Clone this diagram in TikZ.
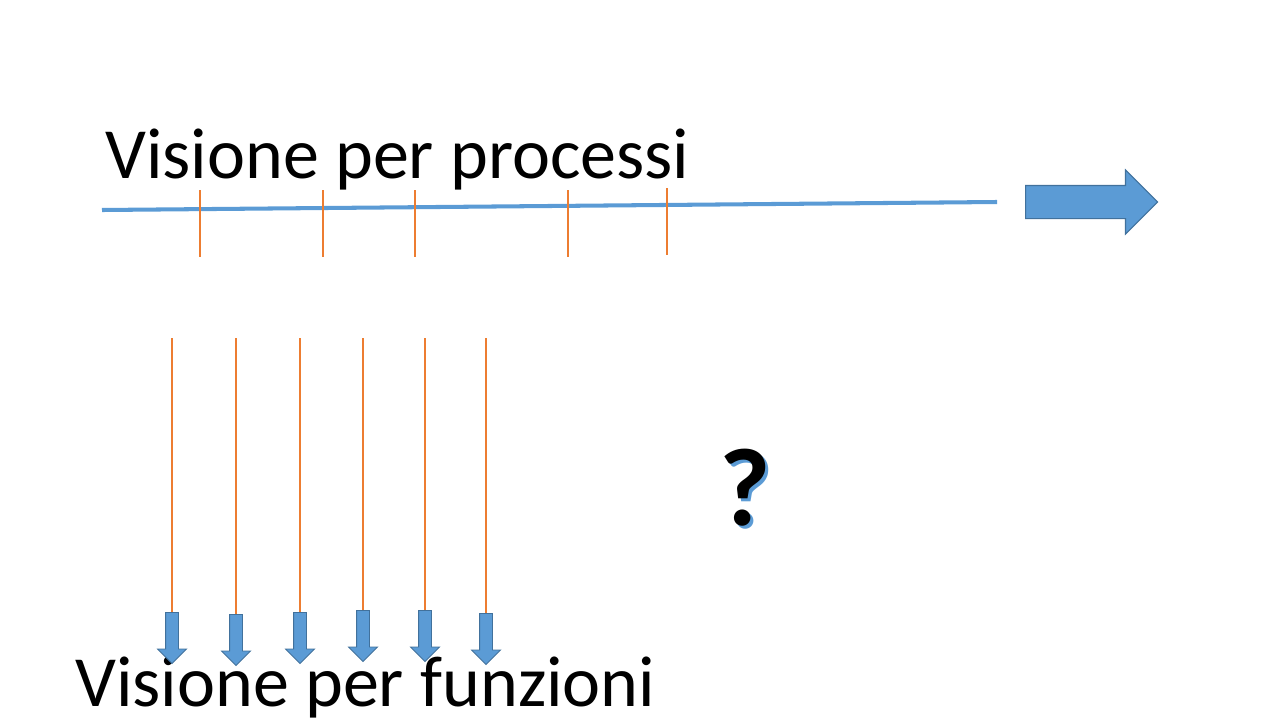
\documentclass[tikz,border=0pt]{standalone}
\usepackage{xcolor}
\usepackage{fontspec}
\setmainfont{Carlito}
\usepackage{tikz}
\usetikzlibrary{shapes, arrows, positioning}

\definecolor{pblue}{HTML}{5B9BD5}
\definecolor{pblueline}{HTML}{41719C}
\definecolor{porange}{HTML}{ED7D31}

\begin{document}
\begin{tikzpicture}[
    x=0.02cm, y=-0.02cm,
    % Stili per titoli, linee e frecce
    title/.style={
        inner sep=0,
        anchor=base west,
        font=\fontsize{41}{48}\selectfont
    },
    timeline/.style={draw=pblue, line width=2.3pt},
    tick/.style={draw=porange, line width=0.8pt},
    link/.style={draw=porange, line width=0.8pt},
    bigarrow/.style={
        single arrow,
        draw=pblueline,
        fill=pblue,
        line width=0.6pt,
        inner xsep=0,
        inner ysep=0.32cm,
        minimum height=2.64cm,
        single arrow head extend=0.31cm,
        anchor=tail
    },
    downarrow/.style={
        single arrow,
        draw=pblueline,
        fill=pblue,
        line width=0.5pt,
        inner xsep=0,
        inner ysep=0.12cm,
        rotate=-90,
        minimum height=1.02cm,
        single arrow head extend=0.16cm,
        anchor=tail
    },
    qmark/.style={font=\fontsize{63}{70}\selectfont\bfseries, inner sep=0}
]
    \useasboundingbox (0,0) rectangle (1280,720);

    % Titoli
    \node [title] (processi) at (105,178) {Visione per processi};
    \node [title] (funzioni) at (75,706) {Visione per funzioni};

    % Linea dei processi
    \coordinate (tstart) at (102,210);
    \coordinate (tend) at (997,202);
    \path [timeline] (tstart) -- (tend);
    \foreach \x/\a/\b in {200/190/257, 323/190/257, 415/190/257, 568/190/257, 667/188/255}
        \path [tick] (\x,\a) -- (\x,\b);
    \node [bigarrow] (avanti) at (1025,202) {};

    % Funzioni (verticali)
    \foreach \i/\x/\t in {1/172/612, 2/236/614, 3/300/612, 4/363/610, 5/425/610, 6/486/613} {
        \coordinate (top\i) at (\x,338);
        \node [downarrow] (freccia\i) at (\x,\t) {};
        \path [link] (top\i) -- (freccia\i.tail);
    }

    % Punto interrogativo
    \node [qmark, text=pblue] (domandaombra) at (748,491) {?};
    \node [qmark, text=black] (domanda) at (745,488) {?};
\end{tikzpicture}
\end{document}
